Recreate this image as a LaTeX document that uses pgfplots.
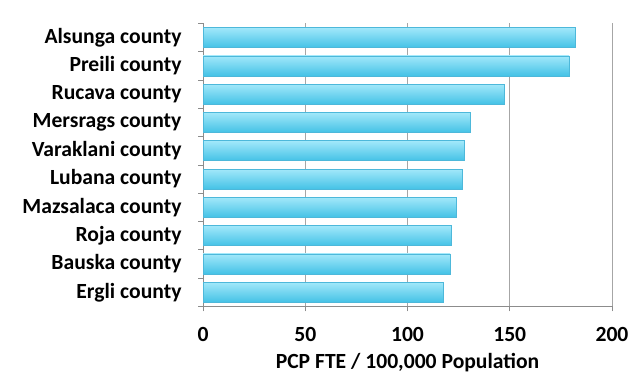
\documentclass[border=0pt]{standalone}
\usepackage{pgfplots}
\pgfplotsset{compat=1.18}
\usepackage{fontspec}
\setmainfont{Carlito}
\definecolor{barTop}{HTML}{A2E8FA}
\definecolor{barBot}{HTML}{44C2E6}
\definecolor{barEdge}{HTML}{4DB8DA}
\definecolor{gridGray}{HTML}{A6A6A6}
\definecolor{axisGray}{HTML}{8C8C8C}

\begin{document}
\begin{tikzpicture}
\path[use as bounding box] (0,0) rectangle (641bp,377bp);
\begin{axis}[
  at={(203bp,70.6bp)}, anchor=south west,
  width=409bp, height=283bp, scale only axis,
  xbar, bar width=20bp, bar shift=0pt,
  xmin=0, xmax=200,
  ymin=-0.5, ymax=9.5,
  axis x line*=bottom, axis y line*=left,
  axis line style={axisGray, line width=0.8pt},
  xtick={0,50,100,150,200},
  xmajorgrids, major grid style={gridGray, line width=0.8pt},
  ytick={0,...,9},
  yticklabels={Ergli county, Bauska county, Roja county, Mazsalaca county, Lubana county, Varaklani county, Mersrags county, Rucava county, Preili county, Alsunga county},
  major y tick style={draw=none},
  minor ytick={-0.5,0.5,...,9.5},
  minor y tick style={axisGray, line width=0.8pt},
  minor tick length=5bp,
  major tick length=5bp,
  tick align=outside,
  x tick style={axisGray, line width=0.8pt},
  tick label style={font=\fontsize{21.7}{23}\selectfont\bfseries, text=black},
  yticklabel style={xshift=-13bp},
  xticklabel style={yshift=-12bp},
  xlabel={PCP FTE / 100,000 Population},
  xlabel style={font=\fontsize{21.7}{23}\selectfont\bfseries, inner sep=1bp, yshift=-8bp},
  /pgf/number format/assume math mode=true,
  county/.style={draw=barEdge, line width=0.6pt, top color=barTop, bottom color=barBot},
]
% one plot per county so that every bar carries its own gradient
\addplot[county] coordinates {(182.0,9)}; % Alsunga
\addplot[county] coordinates {(179.0,8)}; % Preili
\addplot[county] coordinates {(147.5,7)}; % Rucava
\addplot[county] coordinates {(130.7,6)}; % Mersrags
\addplot[county] coordinates {(127.6,5)}; % Varaklani
\addplot[county] coordinates {(126.6,4)}; % Lubana
\addplot[county] coordinates {(123.9,3)}; % Mazsalaca
\addplot[county] coordinates {(121.3,2)}; % Roja
\addplot[county] coordinates {(120.8,1)}; % Bauska
\addplot[county] coordinates {(117.4,0)}; % Ergli
\end{axis}
\end{tikzpicture}
\end{document}
